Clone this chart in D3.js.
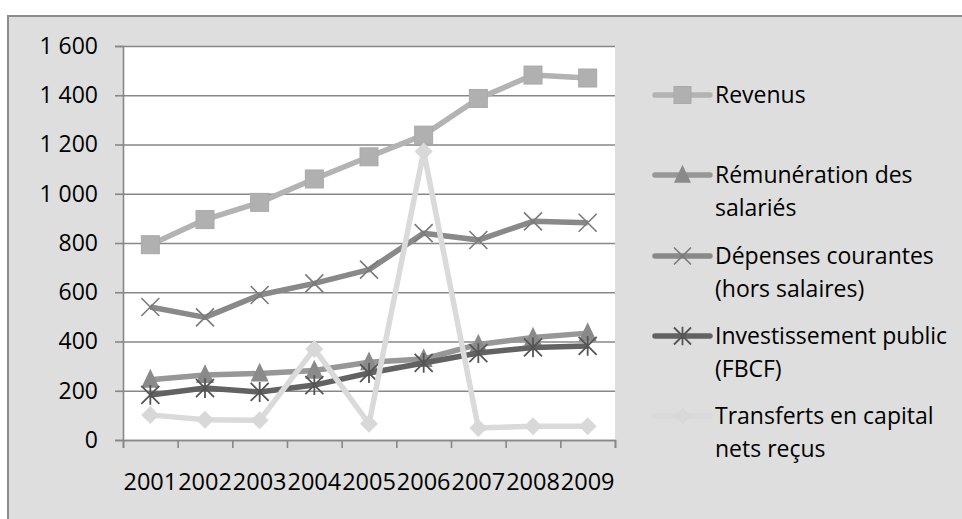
<!DOCTYPE html>
<html>
<head>
<meta charset="utf-8">
<script src="https://cdn.jsdelivr.net/npm/d3@7"></script>
<style>
  html, body { margin: 0; padding: 0; background: #ffffff; }
  svg { display: block; font-family: "Open Sans", "Liberation Sans", sans-serif; }
</style>
</head>
<body>
<div id="vis"></div>
<script>
// Data
const years = ["2001", "2002", "2003", "2004", "2005", "2006", "2007", "2008", "2009"];
const revenus = [793, 895, 965, 1060, 1150, 1238, 1387, 1482, 1470];
const remuneration = [245, 264, 270, 282, 316, 329, 388, 416, 434];
const depenses = [540, 498, 589, 636, 692, 840, 812, 888, 882];
const investissement = [183, 211, 195, 223, 272, 313, 353, 376, 382];
const transferts = [102, 82, 80, 370, 66, 1172, 49, 56, 56];
const yTicks = [0, 200, 400, 600, 800, 1000, 1200, 1400, 1600];

const series = [
  { name: ["Revenus"], values: revenus, line: "#b3b3b3", mark: "#b0b0b0", symbol: "square", width: 5.5 },
  { name: ["Rémunération des", "salariés"], values: remuneration, line: "#979797", mark: "#8a8a8a", symbol: "triangle", width: 5.5 },
  { name: ["Dépenses courantes", "(hors salaires)"], values: depenses, line: "#898989", mark: "#7a7a7a", symbol: "cross", width: 5.5 },
  { name: ["Investissement public", "(FBCF)"], values: investissement, line: "#626262", mark: "#555555", symbol: "star", width: 5.5 },
  { name: ["Transferts en capital", "nets reçus"], values: transferts, line: "#dadada", mark: "#d8d8d8", symbol: "diamond", width: 5.5 }
];

const width = 962;
const height = 519;
const plot = { left: 123, right: 615, top: 46, bottom: 440 };

const svg = d3.select("#vis")
  .append("svg")
  .attr("width", width)
  .attr("height", height);

// Chart background and frame
svg.append("rect")
  .attr("x", 8).attr("y", 16)
  .attr("width", width).attr("height", height)
  .attr("fill", "#dedede")
  .attr("stroke", "#8c8c8c")
  .attr("stroke-width", 2);

svg.append("rect")
  .attr("x", plot.left).attr("y", plot.top)
  .attr("width", plot.right - plot.left)
  .attr("height", plot.bottom - plot.top)
  .attr("fill", "#ffffff");

// Scales
const x = d3.scaleBand()
  .domain(years)
  .range([plot.left, plot.right])
  .padding(0);

const xTick = d3.scaleLinear()
  .domain([0, years.length])
  .range([plot.left, plot.right]);

const y = d3.scaleLinear()
  .domain([0, 1600])
  .range([plot.bottom, plot.top]);

const fmt = d3.formatLocale({ decimal: ",", thousands: " ", grouping: [3], currency: ["", ""] }).format(",d");

// Grid
svg.append("g")
  .attr("transform", `translate(${plot.left},0)`)
  .call(d3.axisLeft(y).tickValues(yTicks).tickSize(-(plot.right - plot.left)).tickFormat(""))
  .call(g => g.select(".domain").remove())
  .call(g => g.selectAll("line").attr("stroke", "#878787").attr("stroke-width", 1.6));

// Y axis
svg.append("g")
  .attr("transform", `translate(${plot.left},0)`)
  .call(d3.axisLeft(y).tickValues(yTicks).tickSize(8).tickPadding(17).tickFormat(fmt))
  .call(g => g.select(".domain").attr("stroke", "#878787").attr("stroke-width", 1.6))
  .call(g => g.selectAll("line").attr("stroke", "#878787").attr("stroke-width", 1.6))
  .call(g => g.selectAll("text").attr("fill", "#000").attr("font-size", "23px")
    .attr("font-family", "'Open Sans', sans-serif"));

// X axis ticks (between categories)
svg.append("g")
  .attr("transform", `translate(0,${plot.bottom})`)
  .call(d3.axisBottom(xTick).tickValues(d3.range(years.length + 1)).tickSize(8).tickFormat(""))
  .call(g => g.select(".domain").attr("stroke", "#878787").attr("stroke-width", 1.6))
  .call(g => g.selectAll("line").attr("stroke", "#878787").attr("stroke-width", 1.6));

// X labels
svg.append("g")
  .selectAll("text")
  .data(years)
  .join("text")
  .attr("x", d => x(d) + x.bandwidth() / 2)
  .attr("y", 490)
  .attr("text-anchor", "middle")
  .attr("font-size", "23.5px")
  .attr("fill", "#000")
  .text(d => d);

// Marker drawing helper
function drawMarker(g, symbol, cx, cy, color, s) {
  if (symbol === "square") {
    g.append("rect")
      .attr("x", cx - s / 2).attr("y", cy - s / 2)
      .attr("width", s).attr("height", s)
      .attr("fill", color).attr("stroke", "#a9a9a9").attr("stroke-width", 1);
  } else if (symbol === "triangle") {
    g.append("path")
      .attr("d", `M${cx},${cy - s * 0.6}L${cx + s / 2},${cy + s * 0.45}L${cx - s / 2},${cy + s * 0.45}Z`)
      .attr("fill", color);
  } else if (symbol === "diamond") {
    g.append("path")
      .attr("d", `M${cx},${cy - s / 2}L${cx + s / 2},${cy}L${cx},${cy + s / 2}L${cx - s / 2},${cy}Z`)
      .attr("fill", color);
  } else if (symbol === "cross") {
    const h = s / 2;
    g.append("path")
      .attr("d", `M${cx - h},${cy - h}L${cx + h},${cy + h}M${cx - h},${cy + h}L${cx + h},${cy - h}`)
      .attr("stroke", color).attr("stroke-width", 1.6).attr("fill", "none");
  } else if (symbol === "star") {
    const h = s / 2;
    g.append("path")
      .attr("d", `M${cx - h},${cy - h}L${cx + h},${cy + h}M${cx - h},${cy + h}L${cx + h},${cy - h}M${cx},${cy - h * 1.1}L${cx},${cy + h * 1.1}`)
      .attr("stroke", color).attr("stroke-width", 1.8).attr("fill", "none");
  }
}

const line = d3.line()
  .x((d, i) => x(years[i]) + x.bandwidth() / 2)
  .y(d => y(d));

// Series lines and markers
series.forEach(s => {
  const g = svg.append("g");
  g.append("path")
    .datum(s.values)
    .attr("fill", "none")
    .attr("stroke", s.line)
    .attr("stroke-width", s.width)
    .attr("stroke-linejoin", "round")
    .attr("d", line);
  s.values.forEach((v, i) => {
    drawMarker(g, s.symbol, x(years[i]) + x.bandwidth() / 2, y(v), s.mark, 18);
  });
});

// Legend
const legendY = [95, 175, 256, 336, 416];
const legendX = 655;
series.forEach((s, k) => {
  const g = svg.append("g");
  const ly = legendY[k];
  g.append("line")
    .attr("x1", legendX).attr("x2", legendX + 55)
    .attr("y1", ly).attr("y2", ly)
    .attr("stroke", s.line)
    .attr("stroke-width", s.width)
    .attr("stroke-linecap", "round");
  drawMarker(g, s.symbol, legendX + 27.5, ly, s.mark, 17);
  s.name.forEach((t, j) => {
    g.append("text")
      .attr("x", legendX + 60)
      .attr("y", ly + 8 + j * 33)
      .attr("font-size", "23px")
      .attr("fill", "#000")
      .text(t);
  });
});
</script>
</body>
</html>
